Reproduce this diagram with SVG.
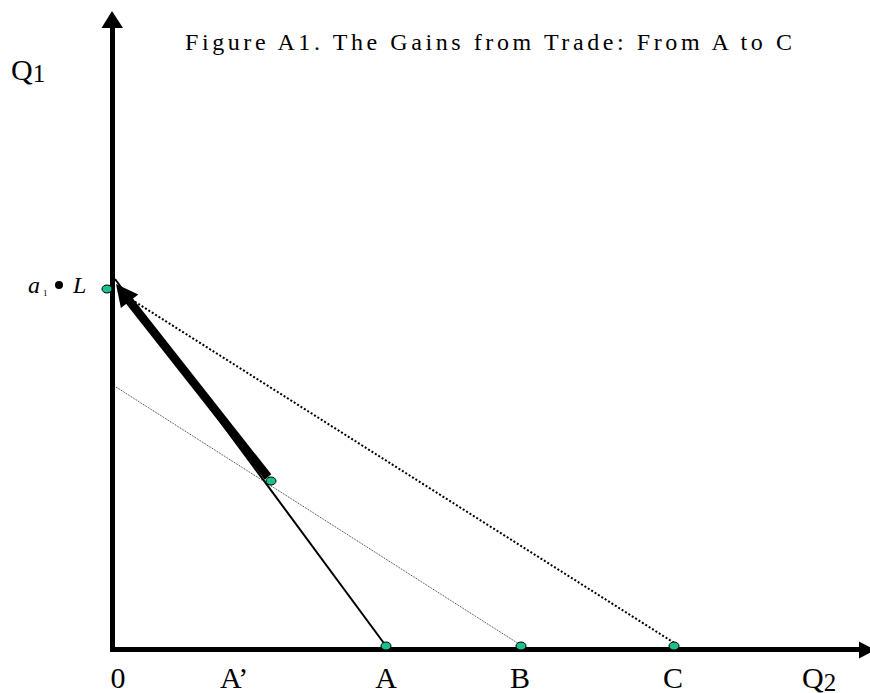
<svg xmlns="http://www.w3.org/2000/svg" width="870" height="693" viewBox="0 0 870 693">
<style>
.t{font-family:"Liberation Serif","Times New Roman",serif;fill:#000}
.dot{fill:#1ac08f;stroke:#000;stroke-width:1}
.lbl{font-size:30px}
</style>
<rect width="870" height="693" fill="#fff"/>
<g id="axes">
<line x1="112.5" y1="26" x2="112.5" y2="652" stroke="#000" stroke-width="5"/>
<polygon points="112,11 101.5,28 123,28" fill="#000"/>
<line x1="110" y1="649.5" x2="860" y2="649.5" stroke="#000" stroke-width="5"/>
<polygon points="859,641.5 875,650 859,658.5" fill="#000"/>
</g>
<g id="connectors">
<line x1="386" y1="646" x2="115" y2="279" stroke="#000" stroke-width="2"/>
<line x1="268" y1="477" x2="127" y2="298" stroke="#000" stroke-width="8.5"/>
<polygon points="116,284 138.3,294.5 120.9,308.1" fill="#000"/>
<line x1="118" y1="291" x2="676" y2="644" stroke="#000" stroke-width="2" stroke-dasharray="2 2"/>
<line x1="116" y1="387" x2="519" y2="644" stroke="#333" stroke-width="1" stroke-dasharray="1 1"/>
</g>
<g id="point-aL"><ellipse class="dot" cx="107" cy="289" rx="5" ry="4"/></g>
<g id="point-Aprime"><ellipse class="dot" cx="271" cy="481" rx="5" ry="4"/></g>
<g id="point-A"><ellipse class="dot" cx="386" cy="646" rx="5" ry="4"/></g>
<g id="point-B"><ellipse class="dot" cx="521" cy="646" rx="5" ry="4"/></g>
<g id="point-C"><ellipse class="dot" cx="674" cy="646" rx="5" ry="4"/></g>
<g id="labels">
<text class="t" x="185" y="50" font-size="24" textLength="607" lengthAdjust="spacing">Figure A1. The Gains from Trade: From A to C</text>
<text class="t" x="11" y="80" font-size="30">Q<tspan font-size="25" dy="2">1</tspan></text>
<text class="t" x="28" y="293" font-size="24" font-style="italic">a</text>
<text class="t" x="43" y="296" font-size="9">1</text>
<circle cx="59" cy="285" r="4" fill="#000"/>
<text class="t" x="73" y="293" font-size="24" font-style="italic">L</text>
<text class="t lbl" x="118" y="688" text-anchor="middle">0</text>
<text class="t lbl" x="220" y="688">A’</text>
<text class="t lbl" x="386" y="688" text-anchor="middle">A</text>
<text class="t lbl" x="520" y="688" text-anchor="middle">B</text>
<text class="t lbl" x="673" y="688" text-anchor="middle">C</text>
<text class="t lbl" x="802" y="688">Q<tspan font-size="25" dy="3">2</tspan></text>
</g>
</svg>
